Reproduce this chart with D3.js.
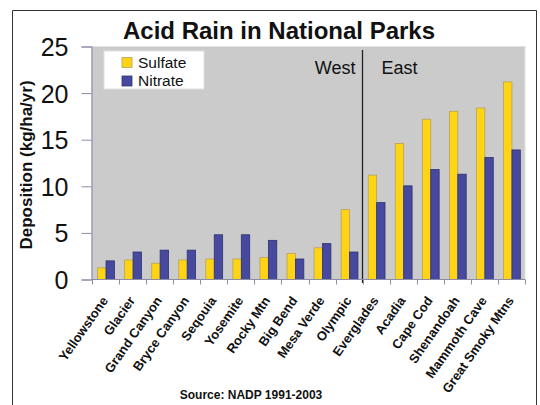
<!DOCTYPE html>
<html>
<head>
<meta charset="utf-8">
<script src="https://cdn.jsdelivr.net/npm/d3@7"></script>
<style>
  html, body { margin: 0; padding: 0; background: #fff; }
  svg { display: block; }
  text { font-family: Arial, "Liberation Sans", sans-serif; }
</style>
</head>
<body>
<svg id="chart" width="540" height="405"></svg>
<script>
// National park acid deposition, kg/ha/yr
const parks = ["Yellowstone", "Glacier", "Grand Canyon", "Bryce Canyon", "Seqouia", "Yosemite",
  "Rocky Mtn", "Big Bend", "Mesa Verde", "Olympic", "Everglades", "Acadia", "Cape Cod",
  "Shenandoah", "Mammoth Cave", "Great Smoky Mtns"];
const sulfate = [1.25, 2.1, 1.75, 2.1, 2.2, 2.2, 2.35, 2.8, 3.4, 7.5, 11.2, 14.6, 17.2, 18.05, 18.4, 21.2];
const nitrate = [2.0, 2.95, 3.15, 3.15, 4.8, 4.8, 4.2, 2.2, 3.85, 2.95, 8.25, 10.05, 11.8, 11.3, 13.1, 13.9];
const seriesNames = ["Sulfate", "Nitrate"];
const seriesColors = ["#ffd414", "#46499e"];
const seriesStrokes = ["#b5a25a", "#2f3270"];
const yTicks = [0, 5, 10, 15, 20, 25];
const firstEastPark = "Everglades";

const svg = d3.select("#chart");

// outer frame
svg.append("path")
  .attr("d", "M12.5,412 V10.5 H536.5 V412")
  .attr("fill", "none").attr("stroke", "#333").attr("stroke-width", 1);

const plot = { left: 92, right: 525, top: 46.5, bottom: 279.5 };

const x = d3.scaleBand().domain(parks).range([plot.left, plot.right]).padding(0);
const xs = d3.scaleBand().domain(seriesNames).range([5.6, 22.4]).padding(0);
const y = d3.scaleLinear().domain([0, 25]).range([plot.bottom, plot.top]);

// plot background
svg.append("rect")
  .attr("x", plot.left).attr("y", y(25))
  .attr("width", plot.right - plot.left).attr("height", y(0) - y(25))
  .attr("fill", "#cbcbcb").attr("stroke", "#e2e2e2").attr("stroke-width", 1);

// bars
const rows = parks.map((p, i) => ({ park: p, values: [sulfate[i], nitrate[i]] }));
const groups = svg.append("g").selectAll("g").data(rows).join("g")
  .attr("transform", d => `translate(${x(d.park)},0)`);
groups.selectAll("rect")
  .data(d => d.values.map((v, k) => ({ key: seriesNames[k], k, v })))
  .join("rect")
  .attr("x", d => xs(d.key))
  .attr("width", xs.bandwidth())
  .attr("y", d => y(d.v))
  .attr("height", d => y(0) - y(d.v))
  .attr("fill", d => seriesColors[d.k])
  .attr("stroke", d => seriesStrokes[d.k])
  .attr("stroke-width", 0.8);

// West / East divider
const divX = Math.round(x(firstEastPark)) - 0.5;
svg.append("line")
  .attr("x1", divX).attr("x2", divX)
  .attr("y1", 50).attr("y2", 283)
  .attr("stroke", "#222").attr("stroke-width", 1.3);
svg.append("text").attr("x", divX - 7).attr("y", 74)
  .attr("text-anchor", "end").attr("font-size", 18).attr("fill", "#111").text("West");
svg.append("text").attr("x", divX + 19).attr("y", 74)
  .attr("text-anchor", "start").attr("font-size", 18).attr("fill", "#111").text("East");

// y axis
const axisColor = "#8b8ca6";
const yAxis = svg.append("g").attr("transform", `translate(${plot.left - 0.5},0)`)
  .call(d3.axisLeft(y).tickValues(yTicks).tickSize(10).tickPadding(13).tickFormat(d3.format("d")));
yAxis.select(".domain").attr("stroke", axisColor).attr("stroke-width", 1.2);
yAxis.selectAll(".tick line").attr("stroke", axisColor);
yAxis.selectAll(".tick text").attr("font-size", 25).attr("fill", "#111")
  .attr("font-family", "Arial, 'Liberation Sans', sans-serif").attr("dy", "0.36em");

// x axis: ticks at category boundaries
const xAxis = svg.append("g").attr("transform", `translate(0,${plot.bottom})`);
xAxis.append("line").attr("x1", plot.left - 1).attr("x2", plot.right)
  .attr("stroke", axisColor).attr("stroke-width", 1.2);
const edges = parks.map(p => x(p)).concat([plot.right]);
xAxis.selectAll("line.tk").data(edges).join("line").attr("class", "tk")
  .attr("x1", d => Math.round(d) + 0.5).attr("x2", d => Math.round(d) + 0.5)
  .attr("y1", 0).attr("y2", 5).attr("stroke", axisColor);

// category labels
svg.append("g").selectAll("text").data(parks).join("text")
  .attr("transform", d => `translate(${x(d) + x.bandwidth() / 2 + 3},${plot.bottom + 21}) rotate(-55)`)
  .attr("text-anchor", "end")
  .attr("font-size", 13).attr("font-weight", "bold").attr("fill", "#111")
  .text(d => d);

// legend
const legend = svg.append("g").attr("transform", "translate(104,51)");
legend.append("rect").attr("width", 100).attr("height", 38)
  .attr("fill", "#fff").attr("stroke", "#e0e0e0");
seriesNames.forEach((name, k) => {
  legend.append("rect").attr("x", 18).attr("y", 6.5 + k * 18.5).attr("width", 10).attr("height", 10)
    .attr("fill", seriesColors[k]).attr("stroke", seriesStrokes[k]).attr("stroke-width", 0.8);
  legend.append("text").attr("x", 34).attr("y", 16.5 + k * 18.5)
    .attr("font-size", 15.5).attr("fill", "#111").text(name);
});

// title
svg.append("text").attr("x", 279).attr("y", 39)
  .attr("text-anchor", "middle").attr("font-size", 24).attr("font-weight", "bold")
  .attr("fill", "#111").text("Acid Rain in National Parks");

// y axis title
svg.append("text")
  .attr("transform", "translate(32,165) rotate(-90)")
  .attr("text-anchor", "middle").attr("font-size", 17).attr("font-weight", "bold")
  .attr("fill", "#111").text("Deposition (kg/ha/yr)");

// source note
svg.append("text").attr("x", 251).attr("y", 399)
  .attr("text-anchor", "middle").attr("font-size", 12).attr("font-weight", "bold")
  .attr("fill", "#111").text("Source:  NADP 1991-2003");
</script>
</body>
</html>
